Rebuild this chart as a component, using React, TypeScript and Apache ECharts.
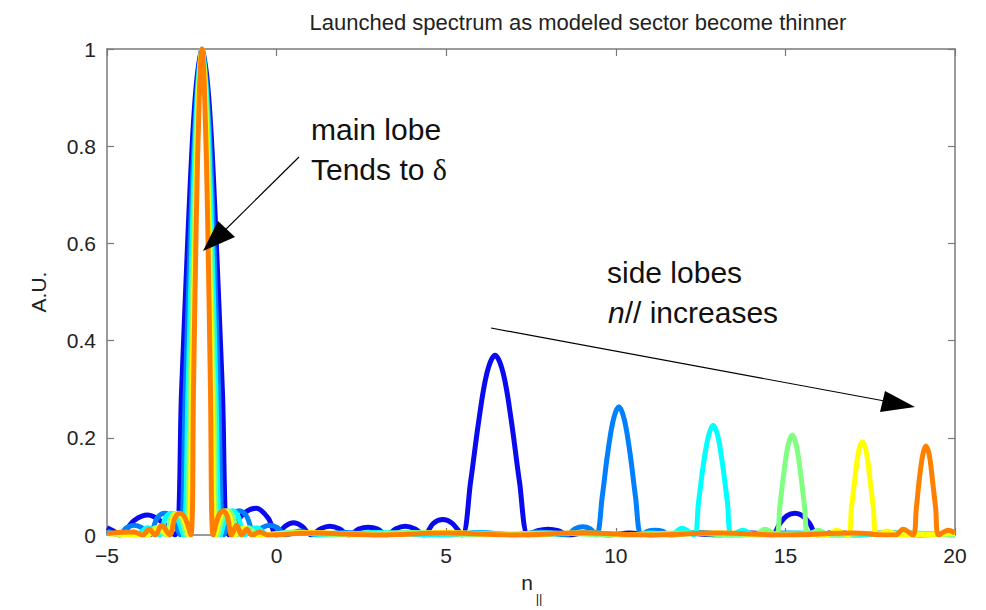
import React, { useEffect, useRef } from "react";
import * as echarts from "echarts";

const FONT = "Liberation Sans, Arial, Helvetica, sans-serif";

const titleText = "Launched spectrum as modeled sector become thinner";
const xTicks = { min: -5, max: 20, interval: 5 };
const yTicks = { min: 0, max: 1, interval: 0.2 };
const xName = "n";
const xNameSub = "||";
const yName = "A.U.";

const seriesNames = ["sector 1", "sector 2", "sector 3", "sector 4", "sector 5", "sector 6"];
const seriesColors = ["#0a0aee", "#0080ff", "#00ffff", "#80ff80", "#ffff00", "#ff8000"];

const blue: number[][] = [
  [-5, 0.015], [-4.8, 0.008], [-4.62, 0.0], [-4.2, 0.03], [-3.8, 0.041], [-3.4, 0.028], [-3.0, 0.0],
  [-2.8, 0.3], [-2.6, 0.64], [-2.4, 0.9], [-2.2, 1.0], [-2.0, 0.9], [-1.8, 0.64], [-1.6, 0.3], [-1.4, 0.0],
  [-1.0, 0.042], [-0.6, 0.055], [-0.25, 0.035], [0.0, 0.0], [0.25, 0.018], [0.5, 0.025], [0.75, 0.018],
  [1.02, 0.0], [1.3, 0.013], [1.57, 0.018], [1.85, 0.013], [2.13, 0.0], [2.42, 0.012], [2.7, 0.016],
  [2.98, 0.012], [3.25, 0.0], [3.52, 0.013], [3.79, 0.018], [4.07, 0.013], [4.35, 0.0], [4.62, 0.024],
  [4.9, 0.032], [5.18, 0.024], [5.47, 0.0], [5.72, 0.11], [5.96, 0.235], [6.2, 0.333], [6.44, 0.37],
  [6.68, 0.333], [6.92, 0.235], [7.16, 0.11], [7.42, 0.0], [7.7, 0.009], [8.0, 0.012], [8.3, 0.009],
  [8.6, 0.0], [9.2, 0.006], [9.8, 0.0], [10.4, 0.004], [11, 0.0], [12, 0.004], [13, 0.0], [14, 0.004],
  [14.6, 0.0], [14.85, 0.025], [15.05, 0.04], [15.28, 0.045], [15.5, 0.04], [15.7, 0.025], [15.95, 0.0],
  [16.5, 0.006], [17.1, 0.0], [18, 0.004], [19, 0.0], [20, 0.004],
];

const lightBlue: number[][] = [
  [-5, 0.008], [-4.65, 0.0], [-4.42, 0.015], [-4.2, 0.02], [-3.98, 0.015], [-3.75, 0.0], [-3.52, 0.035],
  [-3.3, 0.045], [-3.08, 0.035], [-2.85, 0.0], [-2.69, 0.3], [-2.53, 0.64], [-2.36, 0.9], [-2.2, 1.0],
  [-2.04, 0.9], [-1.87, 0.64], [-1.71, 0.3], [-1.55, 0.0], [-1.32, 0.038], [-1.1, 0.05], [-0.88, 0.038],
  [-0.65, 0.0], [-0.42, 0.015], [-0.2, 0.02], [0.02, 0.015], [0.25, 0.0], [0.7, 0.008], [1.15, 0.0],
  [2, 0.005], [3, 0.0], [4, 0.005], [5, 0.0], [6, 0.005], [7, 0.0], [7.8, 0.006], [8.55, 0.0],
  [8.8, 0.013], [9.03, 0.017], [9.24, 0.013], [9.43, 0.0], [9.6, 0.079], [9.76, 0.168], [9.93, 0.238],
  [10.09, 0.264], [10.25, 0.238], [10.42, 0.168], [10.58, 0.079], [10.75, 0.0], [10.95, 0.008],
  [11.16, 0.01], [11.37, 0.008], [11.58, 0.0], [12.5, 0.005], [13.5, 0.0], [15, 0.004], [16.5, 0.0],
  [18, 0.004], [20, 0.0],
];

const cyan: number[][] = [
  [-5, 0.004], [-4.15, 0.0], [-3.8, 0.015], [-3.45, 0.0], [-3.28, 0.035], [-3.1, 0.045], [-2.93, 0.035],
  [-2.75, 0.0], [-2.61, 0.3], [-2.48, 0.64], [-2.34, 0.9], [-2.2, 1.0], [-2.06, 0.9], [-1.92, 0.64],
  [-1.79, 0.3], [-1.65, 0.0], [-1.48, 0.038], [-1.3, 0.05], [-1.13, 0.038], [-0.95, 0.0], [-0.6, 0.015],
  [-0.25, 0.0], [0.5, 0.006], [1.5, 0.0], [3, 0.005], [4.5, 0.0], [6, 0.004], [7.5, 0.0], [9, 0.004],
  [10.5, 0.0], [11.0, 0.004], [11.62, 0.0], [11.95, 0.014], [12.3, 0.0], [12.44, 0.068], [12.58, 0.144],
  [12.73, 0.203], [12.87, 0.226], [13.01, 0.203], [13.15, 0.144], [13.29, 0.068], [13.42, 0.0],
  [13.75, 0.01], [14.1, 0.0], [15.5, 0.004], [17, 0.0], [18.5, 0.004], [20, 0.0],
];

const green: number[][] = [
  [-5, 0.003], [-3.87, 0.0], [-3.57, 0.015], [-3.27, 0.0], [-3.12, 0.035], [-2.97, 0.045], [-2.82, 0.035],
  [-2.67, 0.0], [-2.55, 0.3], [-2.43, 0.64], [-2.32, 0.9], [-2.2, 1.0], [-2.08, 0.9], [-1.97, 0.64],
  [-1.85, 0.3], [-1.73, 0.0], [-1.58, 0.038], [-1.43, 0.05], [-1.28, 0.038], [-1.13, 0.0], [-0.83, 0.015],
  [-0.53, 0.0], [0.5, 0.005], [2, 0.0], [4, 0.005], [6, 0.0], [8, 0.004], [10, 0.0], [12, 0.004],
  [13.5, 0.0], [14.1, 0.0], [14.4, 0.012], [14.72, 0.0], [14.84, 0.062], [14.96, 0.131], [15.08, 0.185],
  [15.2, 0.206], [15.32, 0.185], [15.44, 0.131], [15.56, 0.062], [15.68, 0.0], [15.98, 0.01], [16.28, 0.0],
  [18, 0.004], [20, 0.0],
];

const yellow: number[][] = [
  [-5, 0.003], [-3.8, 0.0], [-3.5, 0.015], [-3.2, 0.0], [-3.05, 0.035], [-2.9, 0.045], [-2.75, 0.035],
  [-2.6, 0.0], [-2.5, 0.3], [-2.4, 0.64], [-2.3, 0.9], [-2.2, 1.0], [-2.1, 0.9], [-2.0, 0.64], [-1.9, 0.3],
  [-1.8, 0.0], [-1.66, 0.038], [-1.52, 0.05], [-1.38, 0.038], [-1.24, 0.0], [-0.96, 0.015], [-0.68, 0.0],
  [1, 0.005], [3, 0.0], [5, 0.005], [7, 0.0], [9, 0.004], [11, 0.0], [13, 0.004], [15, 0.0], [16.2, 0.0],
  [16.5, 0.01], [16.84, 0.0], [16.95, 0.058], [17.06, 0.122], [17.16, 0.173], [17.27, 0.192],
  [17.38, 0.173], [17.48, 0.122], [17.59, 0.058], [17.7, 0.0], [18.0, 0.008], [18.3, 0.0], [20, 0.003],
];

const orange: number[][] = [
  [-5, 0.003], [-4.2, 0.006], [-3.95, 0.0], [-3.75, 0.012], [-3.58, 0.0], [-3.39, 0.02], [-3.15, 0.0],
  [-3.0, 0.035], [-2.85, 0.045], [-2.7, 0.035], [-2.53, 0.0], [-2.45, 0.3], [-2.37, 0.64], [-2.28, 0.9],
  [-2.2, 1.0], [-2.12, 0.9], [-2.03, 0.64], [-1.95, 0.3], [-1.87, 0.0], [-1.72, 0.038], [-1.58, 0.05],
  [-1.45, 0.038], [-1.33, 0.0], [-1.18, 0.02], [-1.03, 0.0], [-0.88, 0.012], [-0.73, 0.0], [-0.5, 0.006],
  [-0.25, 0.0], [1, 0.004], [3, 0.0], [5, 0.004], [7, 0.0], [9, 0.004], [11, 0.0], [13, 0.004], [15, 0.0],
  [17, 0.004], [18.0, 0.0], [18.25, 0.0], [18.47, 0.012], [18.76, 0.0], [18.86, 0.055], [18.95, 0.116],
  [19.05, 0.165], [19.14, 0.183], [19.24, 0.165], [19.33, 0.116], [19.43, 0.055], [19.52, 0.0],
  [19.8, 0.01], [20, 0.004],
];

const seriesData = [blue, lightBlue, cyan, green, yellow, orange];

const AXIS_COLOR = "#7a7a7a";
const TEXT_COLOR = "#222";

function fmtX(v: number): string {
  return v < 0 ? "\u2212" + Math.abs(v) : String(v);
}

export default function App() {
  const ref = useRef<HTMLDivElement>(null);

  useEffect(() => {
    if (!ref.current) return;
    const chart = echarts.init(ref.current, undefined, { renderer: "svg" });

    const axisLine = { show: true, onZero: false, lineStyle: { color: AXIS_COLOR, width: 1.5 } };
    const axisTick = { show: true, inside: true, length: 7, lineStyle: { color: AXIS_COLOR, width: 1.2 } };

    const option: any = {
      animation: false,
      backgroundColor: "#ffffff",
      grid: { left: 107, right: 31, top: 49, bottom: 75, containLabel: false },
      xAxis: [
        {
          type: "value", position: "bottom", ...xTicks,
          axisLine, axisTick,
          splitLine: { show: false },
          axisLabel: { fontSize: 21, color: TEXT_COLOR, fontFamily: FONT, margin: 10, formatter: fmtX },
        },
        {
          type: "value", position: "top", ...xTicks,
          axisLine, axisTick,
          splitLine: { show: false },
          axisLabel: { show: false },
        },
      ],
      yAxis: [
        {
          type: "value", position: "left", ...yTicks,
          axisLine, axisTick,
          splitLine: { show: false },
          axisLabel: { fontSize: 21, color: TEXT_COLOR, fontFamily: FONT, margin: 11 },
        },
        {
          type: "value", position: "right", ...yTicks,
          axisLine, axisTick,
          splitLine: { show: false },
          axisLabel: { show: false },
        },
      ],
      series: seriesData.map((d, i) => ({
        name: seriesNames[i],
        type: "line",
        xAxisIndex: 0,
        yAxisIndex: 0,
        data: d,
        showSymbol: false,
        smooth: 0.35,
        clip: true,
        lineStyle: { color: seriesColors[i], width: 5 },
        itemStyle: { color: seriesColors[i] },
        z: 2 + i,
      })),
      graphic: [
        {
          type: "text", x: 578, y: 22,
          style: { text: titleText, fontSize: 22, fontFamily: FONT, fill: TEXT_COLOR, align: "center", verticalAlign: "middle" },
        },
        {
          type: "text", x: 38, y: 292, rotation: Math.PI / 2,
          style: { text: yName, fontSize: 21, fontFamily: FONT, fill: TEXT_COLOR, align: "center", verticalAlign: "middle" },
        },
        {
          type: "text", x: 527, y: 582,
          style: { text: xName, fontSize: 21, fontFamily: FONT, fill: TEXT_COLOR, align: "center", verticalAlign: "middle" },
        },
        {
          type: "text", x: 539, y: 598,
          style: { text: xNameSub, fontSize: 13, fontFamily: FONT, fill: TEXT_COLOR, align: "center", verticalAlign: "middle" },
        },
        {
          type: "text", x: 311, y: 129,
          style: { text: "main lobe", fontSize: 30, fontFamily: FONT, fill: "#111", align: "left", verticalAlign: "middle" },
        },
        {
          type: "text", x: 311, y: 169,
          style: {
            text: "Tends to {d|\u03b4}", fontSize: 30, fontFamily: FONT, fill: "#111", align: "left", verticalAlign: "middle",
            rich: { d: { fontSize: 30, fontFamily: "Liberation Serif, serif", fill: "#111" } },
          },
        },
        {
          type: "text", x: 607, y: 272,
          style: { text: "side lobes", fontSize: 30, fontFamily: FONT, fill: "#111", align: "left", verticalAlign: "middle" },
        },
        {
          type: "text", x: 608, y: 312,
          style: {
            text: "{i|n}// increases", fontSize: 30, fontFamily: FONT, fill: "#111", align: "left", verticalAlign: "middle",
            rich: { i: { fontSize: 30, fontStyle: "italic", fontFamily: FONT, fill: "#111" } },
          },
        },
        {
          type: "line", shape: { x1: 299, y1: 157, x2: 215, y2: 240 },
          style: { stroke: "#000", lineWidth: 1.2 }, z: 100,
        },
        {
          type: "polygon", shape: { points: [[203, 251], [218, 221], [235, 237]] },
          style: { fill: "#000" }, z: 100,
        },
        {
          type: "line", shape: { x1: 491, y1: 328, x2: 890, y2: 402 },
          style: { stroke: "#000", lineWidth: 1.2 }, z: 100,
        },
        {
          type: "polygon", shape: { points: [[915, 407], [885, 391], [880, 412]] },
          style: { fill: "#000" }, z: 100,
        },
      ],
    };

    chart.setOption(option);
    return () => chart.dispose();
  }, []);

  return (
    <div
      ref={ref}
      style={{ position: "absolute", left: 0, top: 0, width: 986, height: 610, background: "#fff" }}
    />
  );
}
